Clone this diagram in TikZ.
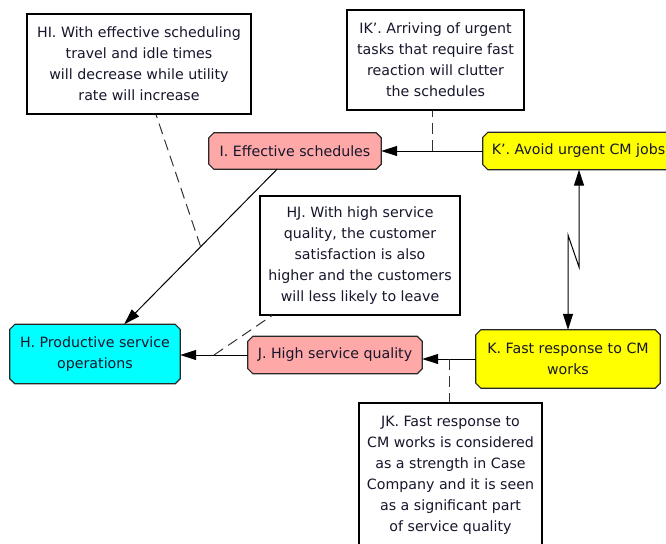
\documentclass[tikz,border=0pt]{standalone}
\usepackage{fontspec}
\setmainfont{DejaVu Sans}
\usetikzlibrary{arrows.meta,calc,backgrounds}

\definecolor{txt}{RGB}{22,22,44}
\definecolor{pinkfill}{RGB}{255,168,168}
\definecolor{cyanfill}{RGB}{0,255,255}
\definecolor{yellowfill}{RGB}{255,255,0}
\definecolor{edge}{RGB}{40,40,40}

% outline with cut corners around a named node
\newcommand\cutbox[3]{%
  \path[draw=edge, line width=1.2pt, fill=#2]
    ([xshift=#3]#1.north west) -- ([xshift=-#3]#1.north east) --
    ([yshift=-#3]#1.north east) -- ([yshift=#3]#1.south east) --
    ([xshift=-#3]#1.south east) -- ([xshift=#3]#1.south west) --
    ([yshift=#3]#1.south west) -- ([yshift=-#3]#1.north west) -- cycle;}

\begin{document}
\begin{tikzpicture}[x=1pt,y=-1pt,
  every node/.style={font=\fontsize{14.2}{21}\selectfont, text=txt, inner sep=0pt, align=center},
  factor/.style={rectangle},
  note/.style={rectangle, draw=black, line width=1.1pt, fill=white},
  link/.style={draw=black, line width=1pt, -{Triangle[length=16pt,width=10pt]}},
  twoway/.style={draw=black, line width=1pt, {Triangle[length=16pt,width=10pt]}-{Triangle[length=16pt,width=10pt]}},
  comment/.style={draw=black!80, line width=1pt, dash pattern=on 11pt off 6pt}]

\clip (0,0) rectangle (666,543);

% factors
\node[factor, minimum width=172pt, minimum height=36pt] (I) at (295,151) {I. Effective schedules};
\node[factor, minimum width=191pt, minimum height=37pt] (Kp) at (578.5,151) {K’. Avoid urgent CM jobs};
\node[factor, minimum width=170pt, minimum height=59pt] (H) at (95,354) {H. Productive service\\operations};
\node[factor, minimum width=174pt, minimum height=37pt] (J) at (335,355) {J. High service quality};
\node[factor, minimum width=184pt, minimum height=58pt] (K) at (568,359) {K. Fast response to CM\\works};

\begin{scope}[on background layer]
  \fill[white] (0,0) rectangle (666,543);
  \cutbox{I}{pinkfill}{5pt}
  \cutbox{Kp}{yellowfill}{5pt}
  \cutbox{H}{cyanfill}{5pt}
  \cutbox{J}{pinkfill}{5pt}
  \cutbox{K}{yellowfill}{5pt}
\end{scope}

% causal links
\draw[link] (I) -- (H) coordinate[pos=0.5] (ihmid);
\draw[link] (Kp.west) -- (I.east |- Kp.west) coordinate[pos=0.5] (ikmid);
\draw[link] (J.west) -- (H.east |- J.west) coordinate[pos=0.5] (hjmid);
\draw[link] (K.west) -- (J.east |- K.west) coordinate[pos=0.5] (jkmid);

% conflict between K' and K
\coordinate (z1) at (579,267);
\coordinate (z2) at (568,235);
\draw[twoway] (z1 |- Kp.south) -- (z1) -- (z2) -- (z2 |- K.north);

% assumption notes
\node[note, minimum width=224pt, minimum height=100pt] (HI) at (139,64)
  {HI. With effective scheduling\\travel and idle times\\will decrease while utility\\rate will increase};
\node[note, minimum width=177pt, minimum height=100pt] (IK) at (435.5,60)
  {IK’. Arriving of urgent\\tasks that require fast\\reaction will clutter\\the schedules};
\node[note, minimum width=200pt, minimum height=119pt] (HJ) at (360,255.5)
  {HJ. With high service\\quality, the customer\\satisfaction is also\\higher and the customers\\will less likely to leave};
\node[note, minimum width=183pt, minimum height=145pt] (JK) at (450.5,475.5)
  {JK. Fast response to\\CM works is considered\\as a strength in Case\\Company and it is seen\\as a significant part\\of service quality};

\draw[comment] (ihmid) -- (HI);
\draw[comment] (ikmid) -- (ikmid |- IK.south);
\draw[comment] (hjmid) -- (HJ);
\draw[comment] (jkmid) -- (jkmid |- JK.north);
\end{tikzpicture}
\end{document}
